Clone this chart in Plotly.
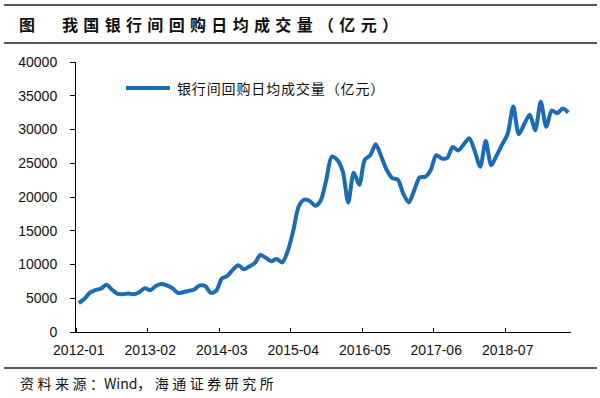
import plotly.graph_objects as go

# Monthly average daily interbank repo volume (亿元), 2012-01 .. 2019-06
volume = [4300, 4900, 5800, 6200, 6400, 7000, 6300, 5700, 5600, 5700,
          5600, 5900, 6500, 6200, 6800, 7100, 6900, 6500, 5800, 5900,
          6100, 6300, 6900, 6800, 5800, 6100, 7900, 8300, 9200, 9900,
          9300, 9700, 10200, 11400, 11000, 10500, 10800, 10300, 12000, 15000,
          18600, 19600, 19400, 18700, 19500, 22500, 26000, 25500, 23800, 19200,
          23600, 21800, 25500, 26200, 27800, 26000, 24000, 22800, 22600, 20500,
          19200, 21000, 22900, 23000, 24000, 26200, 25700, 25800, 27400, 26900,
          27800, 28700, 26800, 24500, 28300, 24700, 26200, 27800, 29400, 33400,
          29300, 30800, 32200, 29900, 34100, 30400, 32800, 32400, 33100, 32500]

months = [f"{2012 + k // 12}-{k % 12 + 1:02d}" for k in range(len(volume))]
tick_step = 13
tick_idx = list(range(0, len(months), tick_step))
tick_labels = [months[k] for k in tick_idx]
y_ticks = [0, 5000, 10000, 15000, 20000, 25000, 30000, 35000, 40000]

series_name = "银行间回购日均成交量（亿元）"
title_fig = "图"
title_text = "我国银行间回购日均成交量（亿元）"
source_text = "资料来源：Wind，海通证券研究所"

W, H = 600, 398
L, R, T, B = 76, 29, 62, 66
pw, ph = W - L - R, H - T - B

def px(x):
    return (x - L) / pw

def py(y):
    return (H - B - y) / ph

blue = "#1B6CB5"
ink = "#111111"

fig = go.Figure()
fig.add_trace(go.Scatter(
    x=list(range(len(volume))), y=volume, mode="lines",
    line=dict(color=blue, width=4, shape="spline", smoothing=0.8),
    name=series_name, showlegend=False, hoverinfo="skip"))

fig.update_layout(
    width=W, height=H, margin=dict(l=L, r=R, t=T, b=B),
    paper_bgcolor="white", plot_bgcolor="white",
    font=dict(family="Liberation Sans, Arial, sans-serif", size=14, color=ink),
    xaxis=dict(range=[-0.5, len(volume) - 0.5], tickmode="array",
               tickvals=tick_idx, ticktext=tick_labels, ticks="",
               showline=True, linecolor="#000", linewidth=1,
               showgrid=False, zeroline=False, ticklabelstandoff=5,
               tickfont=dict(size=14, color=ink),
               minor=dict(ticks="inside", tick0=-0.5, dtick=tick_step,
                          ticklen=4, tickcolor="#000", tickwidth=1, showgrid=False)),
    yaxis=dict(range=[0, 40000], tickmode="array", tickvals=y_ticks,
               ticktext=[str(v) for v in y_ticks],
               ticks="outside", ticklen=5, tickcolor="#000",
               showline=True, linecolor="#000", linewidth=1,
               showgrid=False, zeroline=False, ticklabelstandoff=10,
               tickfont=dict(size=14, color=ink)),
)

cjk = "Noto Sans CJK SC"
fig.add_annotation(x=px(17), y=py(24), xref="paper", yref="paper",
                   text=title_fig, showarrow=False, xanchor="left", yanchor="middle",
                   font=dict(family=cjk, size=16, color=ink, weight=700))
fig.add_annotation(x=px(60), y=py(24), xref="paper", yref="paper",
                   text="\u2004".join(title_text), showarrow=False, xanchor="left", yanchor="middle",
                   font=dict(family=cjk, size=16, color=ink, weight=700))
fig.add_annotation(x=px(175), y=py(88), xref="paper", yref="paper",
                   text="\u200a".join(series_name), showarrow=False, xanchor="left", yanchor="middle",
                   font=dict(family=cjk, size=14, color=ink))
src_a, src_b = source_text.split("Wind")
fig.add_annotation(x=px(18), y=py(383), xref="paper", yref="paper",
                   text="\u2005".join(src_a) + "Wind" + "\u2005".join(src_b),
                   showarrow=False, xanchor="left", yanchor="middle",
                   font=dict(family=cjk, size=14, color=ink))

# legend sample line
fig.add_shape(type="line", xref="paper", yref="paper",
              x0=px(126), x1=px(170), y0=py(88), y1=py(88),
              line=dict(color=blue, width=4))
# rule lines (title block and source block)
for yy in (5, 43, 368):
    fig.add_shape(type="line", xref="paper", yref="paper",
                  x0=px(4), x1=px(597), y0=py(yy), y1=py(yy),
                  line=dict(color="#222", width=1.5))

fig.write_html("out.html", config={"displayModeBar": False},
               post_script="document.body.style.margin='0';document.body.style.overflow='hidden';")
